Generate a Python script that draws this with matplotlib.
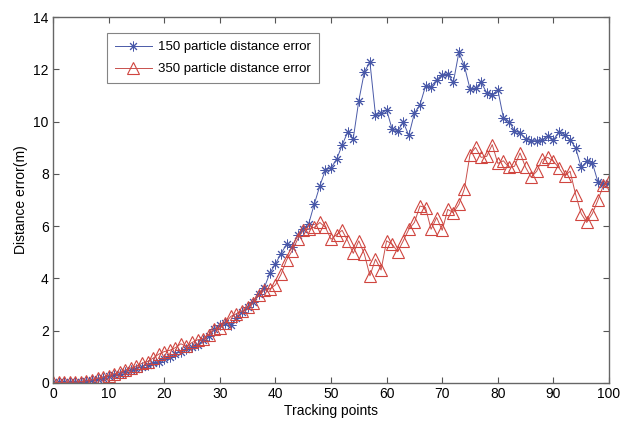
import numpy as np
import matplotlib
matplotlib.use("Agg")
import matplotlib.pyplot as plt

plt.rcParams['font.family'] = ['Liberation Sans', 'DejaVu Sans']

points = np.arange(0, 101)

err_150 = [0.02, 0.02, 0.02, 0.03, 0.03, 0.05, 0.08, 0.12, 0.15, 0.2,
           0.25, 0.3, 0.35, 0.42, 0.5, 0.55, 0.62, 0.7, 0.78, 0.82,
           0.9, 1.0, 1.12, 1.2, 1.3, 1.38, 1.45, 1.65, 1.8, 2.05,
           2.2, 2.3, 2.2, 2.5, 2.7, 2.9, 3.1, 3.4, 3.65, 4.2,
           4.55, 4.95, 5.3, 5.2, 5.65, 5.9, 6.1, 6.85, 7.55, 8.15,
           8.23, 8.55, 9.1, 9.6, 9.35, 10.8, 11.9, 12.27, 10.25, 10.32,
           10.45, 9.7, 9.65, 9.97, 9.47, 10.32, 10.64, 11.36, 11.34, 11.6,
           11.8, 11.82, 11.5, 12.65, 12.12, 11.25, 11.28, 11.5, 11.1, 11.02,
           11.22, 10.15, 10.0, 9.65, 9.56, 9.35, 9.27, 9.27, 9.3, 9.45,
           9.3, 9.6, 9.5, 9.3, 9.0, 8.25, 8.48, 8.42, 7.7, 7.6,
           7.65]

err_350 = [0.02, 0.02, 0.02, 0.03, 0.03, 0.05, 0.08, 0.12, 0.18, 0.22,
           0.28, 0.35, 0.42, 0.5, 0.58, 0.65, 0.75, 0.82, 0.95, 1.1,
           1.2, 1.25, 1.35, 1.5, 1.4, 1.55, 1.65, 1.7, 1.85, 2.05,
           2.1, 2.3, 2.55, 2.65, 2.75, 2.9, 3.05, 3.35, 3.55, 3.6,
           3.75, 4.15, 4.7, 5.05, 5.5, 5.85, 5.9, 5.95, 6.14, 5.95,
           5.5, 5.67, 5.84, 5.44, 4.96, 5.44, 4.93, 4.1, 4.74, 4.32,
           5.44, 5.31, 5.02, 5.44, 5.88, 6.14, 6.77, 6.71, 5.88, 6.33,
           5.84, 6.64, 6.52, 6.83, 7.43, 8.74, 9.01, 8.63, 8.67, 9.12,
           8.4, 8.5, 8.25, 8.29, 8.8, 8.25, 7.87, 8.1, 8.55, 8.63,
           8.48, 8.23, 7.91, 8.1, 7.21, 6.48, 6.14, 6.48, 6.99, 7.56,
           7.72]

fig = plt.figure(figsize=(6.29, 4.21), dpi=100)
ax = fig.add_axes([0.0843, 0.0903, 0.8839, 0.8693])

# matlab style '*' marker = plus and cross together
ax.plot(points, err_150, color='#4a5aa8', linewidth=0.7, marker=(8, 2, 0),
        markersize=7, markeredgewidth=0.7, markeredgecolor='#4858a8',
        label='150 particle distance error')
ax.plot(points, err_350, color='#c8504c', linewidth=0.7, marker='^',
        markersize=8, markeredgewidth=0.8, markerfacecolor='none',
        markeredgecolor='#d0453f', label='350 particle distance error')

ax.set_xlim(0, 100)
ax.set_ylim(0, 14)
ax.set_xticks(np.arange(0, 101, 10))
ax.set_yticks(np.arange(0, 15, 2))
ax.tick_params(direction='in', top=True, right=True, length=4,
               labelsize=10, color='#555555', pad=3)
for s in ax.spines.values():
    s.set_color('#666666')
    s.set_linewidth(1.0)

ax.set_xlabel('Tracking points', fontsize=10, labelpad=2)
ax.set_ylabel('Distance error(m)', fontsize=10, labelpad=4)

leg = ax.legend(loc='upper left', bbox_to_anchor=(0.097, 0.956), fontsize=9.5,
                frameon=True, fancybox=False, borderpad=0.6, handlelength=2.8,
                handletextpad=0.5, borderaxespad=0, edgecolor='#666666',
                labelspacing=0.75)
leg.get_frame().set_linewidth(0.8)

fig.savefig('out.png', dpi=100)
